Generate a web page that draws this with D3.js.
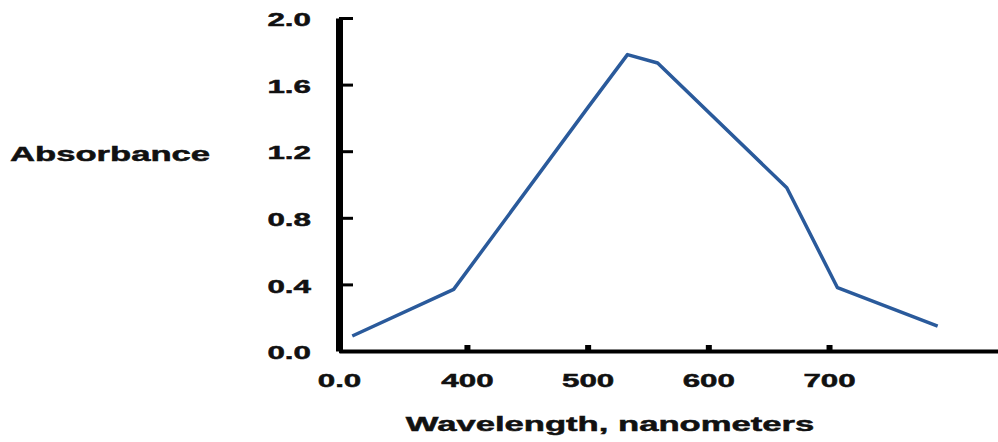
<!DOCTYPE html>
<html>
<head>
<meta charset="utf-8">
<script src="https://cdn.jsdelivr.net/npm/d3@7"></script>
<style>
  body { margin: 0; background: #fff; }
  text { font-family: "Liberation Sans", Arial, sans-serif; font-weight: bold; fill: #111; stroke: #111; stroke-width: 0.5px; }
</style>
</head>
<body>
<div class="chart"></div>
<script>
// absorbance spectrum
const wavelengths = [305, 389, 500, 533, 558, 665, 707, 790];
const absorbance = [0.09, 0.37, 1.46, 1.78, 1.73, 0.98, 0.38, 0.15];

const xTicks = [400, 500, 600, 700];
const yTicks = [0, 0.4, 0.8, 1.2, 1.6, 2.0];
const xOriginLabel = "0.0";

const width = 998, height = 442;
const SX = 1.65; // the original lettering is stretched sideways

const svg = d3.select(".chart").append("svg")
  .attr("width", width)
  .attr("height", height);

const x = d3.scaleLinear()
  .domain([294, 840])
  .range([339, 998]);

const y = d3.scaleLinear()
  .domain([0, 2])
  .range([351, 18]);

// y axis
const yAxis = svg.append("g")
  .attr("transform", "translate(" + x.range()[0] + ",0)")
  .call(d3.axisLeft(y)
    .tickValues(yTicks)
    .tickFormat(d3.format(".1f"))
    .tickSizeInner(-14)
    .tickSizeOuter(0));

yAxis.select(".domain").attr("stroke", "#000").attr("stroke-width", 7);
yAxis.selectAll(".tick line").attr("stroke", "#000").attr("stroke-width", 3);
yAxis.selectAll(".tick text")
  .attr("x", 0)
  .attr("dy", "0.35em")
  .attr("text-anchor", "end")
  .attr("transform", "translate(-28,1) scale(" + SX + ",1)")
  .style("font-size", "19px");

// x axis
const xAxis = svg.append("g")
  .attr("transform", "translate(0," + y(0) + ")")
  .call(d3.axisBottom(x)
    .tickValues([x.domain()[0]].concat(xTicks))
    .tickFormat((d) => d === x.domain()[0] ? xOriginLabel : d)
    .tickSizeInner(-6)
    .tickSizeOuter(0));

xAxis.select(".domain").attr("stroke", "#000").attr("stroke-width", 4);
xAxis.selectAll(".tick line").attr("stroke", "#000").attr("stroke-width", 6);
xAxis.selectAll(".tick text")
  .attr("y", 0)
  .attr("dy", "36px")
  .attr("transform", "scale(" + SX + ",1)")
  .style("font-size", "19px");

// axis titles
svg.append("text")
  .attr("transform", "translate(10,161) scale(" + SX + ",1)")
  .style("font-size", "21px")
  .text("Absorbance");

svg.append("text")
  .attr("transform", "translate(610,431) scale(" + SX + ",1)")
  .attr("text-anchor", "middle")
  .style("font-size", "21px")
  .text("Wavelength, nanometers");

// curve
const line = d3.line()
  .x((d, i) => x(wavelengths[i]))
  .y((d) => y(d));

svg.append("path")
  .datum(absorbance)
  .attr("fill", "none")
  .attr("stroke", "#2a5a9b")
  .attr("stroke-width", 3.5)
  .attr("stroke-linejoin", "round")
  .attr("d", line);
</script>
</body>
</html>
